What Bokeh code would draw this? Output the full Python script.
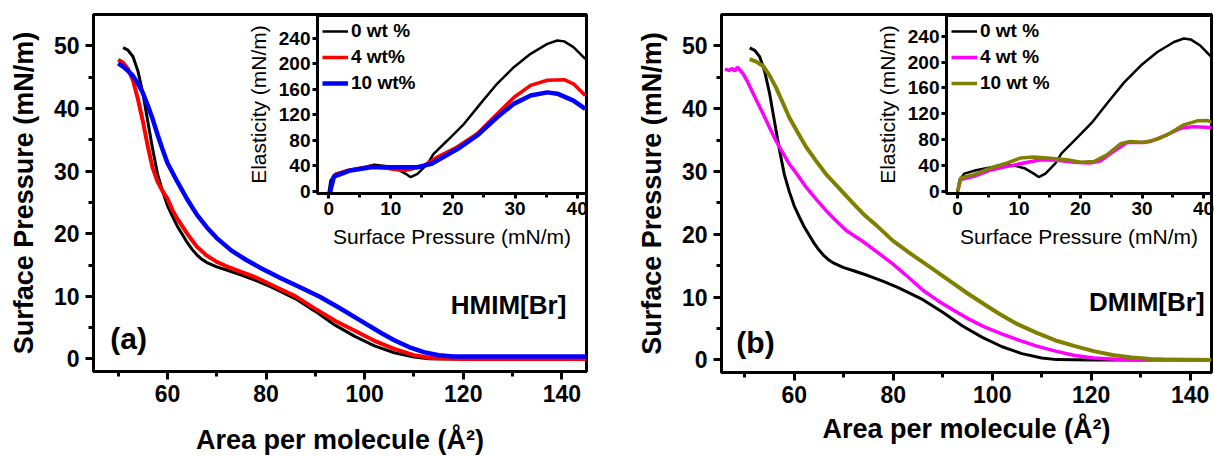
from bokeh.plotting import figure
from bokeh.models import Range1d, FixedTicker, Label, Legend, LegendItem
from bokeh.embed import file_html
from bokeh.resources import INLINE

# ---------------- data ----------------
# Panel (a)/(b) main isotherms: area per molecule (A^2) vs surface pressure (mN/m)
area_0wt = [51, 52, 53, 54, 55, 56, 57, 58, 59, 60, 61, 62, 63, 64, 65, 66, 67, 68, 70, 72, 75, 78, 81, 86, 90, 94, 98, 102, 106, 110, 113, 120, 130, 145]
pi_0wt = [49.7, 49.3, 48.3, 46.0, 42.5, 38.0, 33.5, 29.5, 26.8, 24.5, 22.8, 21.2, 19.9, 18.6, 17.5, 16.6, 15.9, 15.4, 14.7, 14.2, 13.4, 12.5, 11.5, 9.6, 7.6, 5.4, 3.6, 2.1, 1.0, 0.3, 0.05, 0, 0, 0]

area_hmim_4wt = [50, 51, 52, 53, 54, 55, 56, 57, 58, 59, 60, 61, 62, 64, 66, 68, 70, 72, 74, 78, 82, 86, 90, 94, 98, 102, 106, 110, 114, 120, 145]
pi_hmim_4wt = [47.8, 47.3, 46.3, 44.5, 41.5, 38.0, 34.0, 30.5, 28.3, 26.8, 25.6, 23.8, 22.4, 20.0, 17.9, 16.5, 15.5, 14.8, 14.2, 13.0, 11.5, 10.0, 8.0, 6.1, 4.5, 2.9, 1.6, 0.6, 0.1, 0, 0]

area_hmim_10wt = [50, 51, 52, 53, 54, 55, 56, 57, 58, 59, 60, 62, 64, 66, 68, 70, 73, 76, 79, 83, 87, 91, 95, 99, 103, 106, 109, 112, 115, 118, 145]
pi_hmim_10wt = [47.2, 46.7, 46.0, 45.2, 44.0, 42.5, 40.5, 38.3, 35.8, 33.5, 31.3, 28.3, 25.5, 23.0, 21.0, 19.3, 17.3, 15.8, 14.5, 12.9, 11.4, 9.9, 8.1, 6.2, 4.3, 3.0, 1.9, 1.1, 0.6, 0.4, 0.4]

area_dmim_4wt = [46.0, 46.8, 47.5, 48.0, 48.5, 49.0, 49.7, 50.5, 51.4, 52.5, 53.7, 55.0, 56.3, 57.6, 59.0, 60.7, 62.4, 64.4, 66.4, 68.4, 70.5, 73.8, 76.9, 79.9, 83.0, 86.0, 89.1, 92.2, 95.3, 98.3, 101.8, 105.2, 109.0, 112.8, 116.7, 120.5, 125.0, 129.0, 131.8]
pi_dmim_4wt = [46.3, 46.1, 46.4, 46.0, 46.6, 46.2, 45.5, 44.4, 42.9, 41.1, 39.2, 37.0, 34.9, 33.1, 31.2, 29.4, 27.5, 25.6, 23.8, 22.2, 20.6, 18.9, 17.1, 15.3, 13.2, 11.1, 9.4, 7.9, 6.5, 5.3, 4.2, 3.2, 2.2, 1.4, 0.7, 0.3, 0.1, 0.02, 0.0]

area_dmim_10wt = [51.0, 52.3, 53.7, 55.0, 56.3, 57.6, 59.0, 60.7, 62.4, 64.4, 66.4, 69.0, 71.8, 74.0, 76.5, 79.9, 83.7, 87.6, 91.4, 95.2, 98.3, 101.3, 105.1, 109.0, 112.8, 116.7, 120.5, 124.3, 128.2, 132.0, 136.0, 144.3]
pi_dmim_10wt = [47.9, 47.5, 46.8, 45.3, 43.4, 41.1, 38.6, 36.2, 33.9, 31.7, 29.6, 27.4, 25.0, 23.2, 21.5, 19.0, 16.8, 14.7, 12.6, 10.5, 8.9, 7.4, 5.7, 4.3, 3.1, 2.2, 1.4, 0.8, 0.4, 0.15, 0.05, 0.0]

# Insets: surface pressure (mN/m) vs elasticity (mN/m)
sp_0wt = [0.0, 0.3, 1.1, 3.0, 5.7, 7.3, 9.4, 11.0, 12.4, 13.2, 14.3, 15.9, 16.9, 19.1, 21.8, 24.4, 27.1, 29.8, 32.5, 35.2, 36.8, 37.9, 39.4, 41.3]
el_0wt = [-1.5, 16.8, 27.3, 32.5, 37.6, 41.4, 39.3, 35.1, 27.3, 22.0, 27.3, 43.0, 58.7, 79.5, 105.7, 137.0, 168.5, 194.5, 215.5, 231.0, 236.4, 235.0, 226.0, 207.7]

sp_hmim_4wt = [0.3, 0.85, 3.0, 6.8, 10.0, 12.2, 13.5, 15.3, 17.4, 20.6, 23.9, 27.1, 29.8, 32.5, 35.2, 37.9, 39.4, 41.3]
el_hmim_4wt = [-1.5, 25.0, 32.5, 39.3, 35.0, 32.5, 35.0, 40.0, 53.0, 69.0, 90.0, 121.0, 147.0, 166.0, 174.0, 175.0, 168.5, 150.0]

sp_hmim_10wt = [0.2, 0.85, 3.5, 6.8, 11.0, 14.3, 16.5, 20.8, 23.9, 27.1, 29.8, 32.5, 35.2, 36.8, 39.4, 41.3]
el_hmim_10wt = [-1.5, 23.0, 32.5, 37.6, 37.6, 37.6, 42.8, 66.5, 87.4, 116.0, 137.0, 150.0, 155.0, 153.0, 142.0, 129.0]

sp_dmim_4wt = [0.0, 0.5, 2.7, 5.4, 8.1, 10.8, 13.5, 16.2, 18.9, 21.6, 23.3, 25.4, 27.6, 29.8, 31.4, 34.1, 36.3, 38.4, 41.4]
el_dmim_4wt = [0.0, 18.0, 23.0, 33.0, 38.5, 43.7, 48.8, 47.8, 45.0, 43.7, 47.3, 61.7, 75.5, 75.5, 77.0, 87.4, 97.6, 100.0, 98.7]

sp_dmim_10wt = [0.0, 0.5, 2.7, 5.4, 8.1, 10.2, 12.4, 14.6, 17.8, 20.0, 22.2, 24.3, 26.5, 28.1, 30.3, 32.5, 34.6, 36.8, 39.0, 40.6, 41.4]
el_dmim_10wt = [0.0, 20.5, 25.7, 36.0, 43.7, 51.4, 53.0, 51.4, 48.8, 45.0, 46.0, 56.5, 73.5, 77.0, 75.5, 80.7, 90.0, 102.8, 109.0, 109.5, 106.4]

main_x_ticks = [60, 80, 100, 120, 140]
main_x_minor = [50, 70, 90, 110, 130]
main_y_ticks = [0, 10, 20, 30, 40, 50]
main_y_minor = [5, 15, 25, 35, 45]
inset_x_ticks = [0, 10, 20, 30, 40]
inset_x_minor = [5, 15, 25, 35]
inset_y_ticks = [0, 40, 80, 120, 160, 200, 240]

FONT = "Liberation Sans"


def style_axes(p, tick_px, title_px, title_style, major_out, minor_out, lw):
    p.grid.visible = False
    p.outline_line_color = "black"
    p.outline_line_width = lw
    p.outline_line_alpha = 1.0
    for ax in p.axis:
        ax.axis_line_width = lw
        ax.axis_line_color = "black"
        ax.major_tick_line_width = lw
        ax.minor_tick_line_width = lw
        ax.major_tick_in = 0
        ax.major_tick_out = major_out
        ax.minor_tick_in = 0
        ax.minor_tick_out = minor_out
        ax.major_label_text_font = FONT
        ax.major_label_text_font_size = tick_px
        ax.major_label_text_font_style = "bold"
        ax.major_label_text_color = "black"
        ax.axis_label_text_font = FONT
        ax.axis_label_text_font_size = title_px
        ax.axis_label_text_font_style = title_style
        ax.axis_label_text_color = "black"


def main_fig(left, width, min_left, min_right, xr, x_title_standoff):
    p = figure(width=width, height=457, x_range=Range1d(*xr), y_range=Range1d(-2, 55),
               output_backend="svg", toolbar_location=None,
               min_border_left=min_left, min_border_right=min_right,
               min_border_top=14, min_border_bottom=85)
    p.styles = {"position": "absolute", "left": f"{left}px", "top": "0px", "z-index": "1"}
    p.xaxis.ticker = FixedTicker(ticks=main_x_ticks, minor_ticks=main_x_minor)
    p.yaxis.ticker = FixedTicker(ticks=main_y_ticks, minor_ticks=main_y_minor)
    p.xaxis.axis_label = "Area per molecule (Å²)"
    p.yaxis.axis_label = "Surface Pressure (mN/m)"
    style_axes(p, "23px", "27px", "bold", 8, 5, 3)
    p.xaxis.major_label_standoff = 5
    p.yaxis.major_label_standoff = 6
    p.xaxis.axis_label_standoff = x_title_standoff
    p.yaxis.axis_label_standoff = 12
    return p


def inset_fig(left, width, min_left, min_right, xr, yr):
    p = figure(width=width, height=262, x_range=Range1d(*xr), y_range=Range1d(*yr),
               output_backend="svg", toolbar_location=None,
               min_border_left=min_left, min_border_right=min_right,
               min_border_top=15, min_border_bottom=69)
    p.styles = {"position": "absolute", "left": f"{left}px", "top": "0px", "z-index": "2"}
    p.border_fill_alpha = 0
    p.background_fill_color = "white"
    p.xaxis.ticker = FixedTicker(ticks=inset_x_ticks, minor_ticks=inset_x_minor)
    p.yaxis.ticker = FixedTicker(ticks=inset_y_ticks, minor_ticks=[])
    p.xaxis.axis_label = "Surface Pressure (mN/m)"
    p.yaxis.axis_label = "Elasticity (mN/m)"
    style_axes(p, "19px", "21px", "normal", 5, 4, 3)
    p.xaxis.major_label_standoff = 3
    p.yaxis.major_label_standoff = 2
    p.xaxis.axis_label_standoff = 7
    p.yaxis.axis_label_standoff = 6
    return p


def add_legend(p, items):
    leg = Legend(items=[LegendItem(label=lab, renderers=[r]) for lab, r in items],
                 location="top_left")
    leg.background_fill_alpha = 0
    leg.border_line_alpha = 0
    leg.label_text_font = FONT
    leg.label_text_font_size = "19px"
    leg.label_text_font_style = "bold"
    leg.label_text_color = "black"
    leg.glyph_width = 26
    leg.glyph_height = 20
    leg.label_height = 20
    leg.label_standoff = 3
    leg.spacing = 4
    leg.padding = 5
    leg.margin = 0
    p.add_layout(leg)


# ---------------- panel (a) ----------------
pa = main_fig(0, 610, 93, 24, (45, 145), 20)
pa.line(area_0wt, pi_0wt, line_color="black", line_width=3)
pa.line(area_hmim_4wt, pi_hmim_4wt, line_color="#ff0000", line_width=4)
pa.line(area_hmim_10wt, pi_hmim_10wt, line_color="#0000ff", line_width=4.5)
pa.add_layout(Label(x=48.4, y=3.2, text="(a)", text_baseline="middle", text_font=FONT,
                    text_font_size="30px", text_font_style="bold", text_color="black"))
pa.add_layout(Label(x=140.9, y=8.6, text="HMIM[Br]", text_align="right", text_baseline="middle",
                    text_font=FONT, text_font_size="26px", text_font_style="bold", text_color="black"))

ia = inset_fig(242, 346, 75, 2, (-1.8, 41.5), (-3.6, 275.6))
r0 = ia.line(sp_0wt, el_0wt, line_color="black", line_width=2.5)
r4 = ia.line(sp_hmim_4wt, el_hmim_4wt, line_color="#ff0000", line_width=3.5)
r10 = ia.line(sp_hmim_10wt, el_hmim_10wt, line_color="#0000ff", line_width=4.5)
add_legend(ia, [("0 wt %", r0), ("4 wt%", r4), ("10 wt%", r10)])

# ---------------- panel (b) ----------------
pb = main_fig(610, 604, 111, 3, (45.3, 144.3), 8)
pb.line(area_0wt, pi_0wt, line_color="black", line_width=3)
pb.line(area_dmim_4wt, pi_dmim_4wt, line_color="#ff00ff", line_width=3.5)
pb.line(area_dmim_10wt, pi_dmim_10wt, line_color="#808000", line_width=4)
pb.add_layout(Label(x=48.3, y=2.7, text="(b)", text_baseline="middle", text_font=FONT,
                    text_font_size="30px", text_font_style="bold", text_color="black"))
pb.add_layout(Label(x=142.9, y=9.2, text="DMIM[Br]", text_align="right", text_baseline="middle",
                    text_font=FONT, text_font_size="26px", text_font_style="bold", text_color="black"))

ib = inset_fig(871, 343, 75, 3, (-1.8, 41.3), (-3.5, 272))
s0 = ib.line(sp_0wt, el_0wt, line_color="black", line_width=2.5)
s4 = ib.line(sp_dmim_4wt, el_dmim_4wt, line_color="#ff00ff", line_width=3.5)
s10 = ib.line(sp_dmim_10wt, el_dmim_10wt, line_color="#808000", line_width=3.5)
add_legend(ib, [("0 wt %", s0), ("4 wt %", s4), ("10 wt %", s10)])

html = file_html([pa, pb, ia, ib], INLINE, title="Isotherms")
open("out.html", "w").write(html)
